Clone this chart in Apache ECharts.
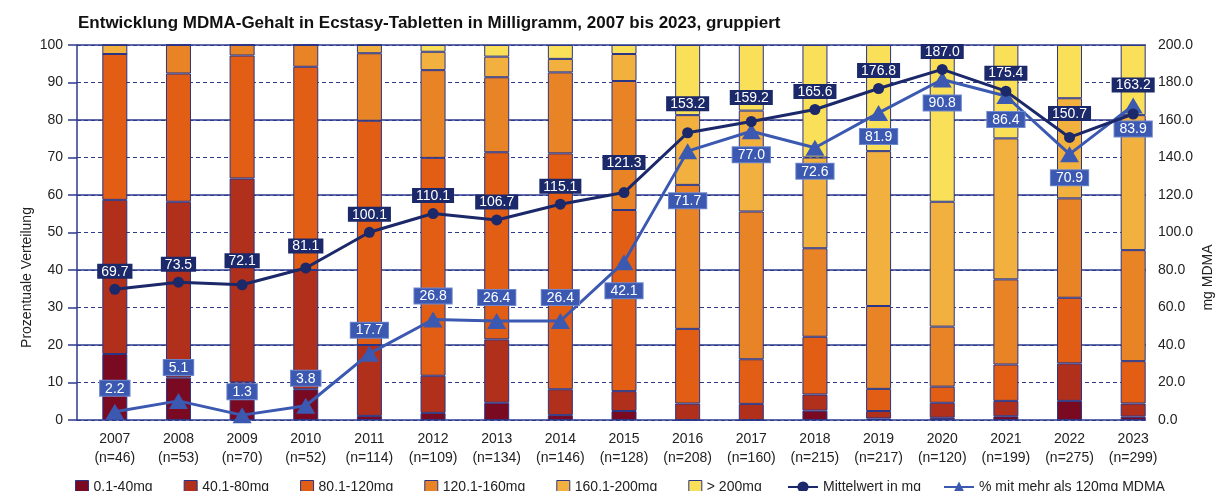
<!DOCTYPE html>
<html>
<head>
<meta charset="utf-8">
<script src="https://cdn.jsdelivr.net/npm/echarts@6/dist/echarts.min.js"></script>
<style>
  html, body { margin: 0; padding: 0; background: #fff; }
  #chart { width: 1220px; height: 491px; }
</style>
</head>
<body>
<div id="chart"></div>
<script>
// categories
const years = ['2007','2008','2009','2010','2011','2012','2013','2014','2015','2016','2017','2018','2019','2020','2021','2022','2023'];
const sampleN = [46, 53, 70, 52, 114, 109, 134, 146, 128, 208, 160, 215, 217, 120, 199, 275, 299];

// percentage distribution per dose group
const g0_40    = [17.6, 11.3, 10.0,  8.2,  1.1,  1.9,  4.6,  1.3,  2.4,  0.0,  0.0,  2.5,  0.4,  0.6,  1.0,  5.1,  0.9];
const g40_80   = [41.1, 46.9, 54.4, 31.8, 18.9,  9.9, 16.9,  6.9,  5.3,  4.4,  4.3,  4.3,  2.0,  4.0,  4.1, 10.0,  3.5];
const g80_120  = [38.9, 34.2, 32.8, 54.2, 59.8, 58.1, 49.9, 62.9, 48.3, 19.9, 11.9, 15.4,  5.9,  4.3,  9.7, 17.5, 11.3];
const g120_160 = [ 0.0,  7.6,  2.8,  5.8, 18.0, 23.4, 20.0, 21.6, 34.4, 38.4, 39.4, 23.6, 22.1, 16.0, 22.7, 26.5, 29.6];
const g160_200 = [ 2.4,  0.0,  0.0,  0.0,  2.2,  4.9,  5.5,  3.6,  7.2, 18.6, 26.9, 24.2, 41.3, 33.3, 37.6, 26.7, 36.0];
const g200plus = [ 0.0,  0.0,  0.0,  0.0,  0.0,  1.8,  3.1,  3.7,  2.4, 18.7, 17.5, 30.0, 28.3, 41.8, 24.9, 14.2, 18.7];

// lines
const meanMg     = [69.7, 73.5, 72.1, 81.1, 100.1, 110.1, 106.7, 115.1, 121.3, 153.2, 159.2, 165.6, 176.8, 187.0, 175.4, 150.7, 163.2];
const pctOver120 = [2.2, 5.1, 1.3, 3.8, 17.7, 26.8, 26.4, 26.4, 42.1, 71.7, 77.0, 72.6, 81.9, 90.8, 86.4, 70.9, 83.9];

const groupNames = ['0.1-40mg', '40.1-80mg', '80.1-120mg', '120.1-160mg', '160.1-200mg', '> 200mg'];
const groups = [g0_40, g40_80, g80_120, g120_160, g160_200, g200plus];
const groupColors = ['#7A0A22', '#B0301C', '#E25E14', '#E88326', '#F2B13F', '#FADF58'];

const NAVY = '#1B2869';
const BLUE = '#3C59B1';
const GRID = '#2E3A8C';
const FONT = 'Liberation Sans, Arial, sans-serif';

// small manual label nudges (px), like the hand-placed labels of the original
const meanNudge = {2: -6, 3: -4, 8: -12, 9: -11, 10: -6, 15: -6, 16: -11};
const pctNudge = {1: -10, 3: -4, 8: 5, 9: 26};

// grid 0 draws the frame, ticks and gridlines; grid 1 holds the data
// (the bars sit off-centre in the original frame, so the category band is shifted)
const axisGrid = { left: 77, right: 74, top: 45, bottom: 71 };
const dataGrid = { left: 83, right: 55, top: 45, bottom: 71 };

const barSeries = groups.map((g, k) => ({
  name: groupNames[k],
  type: 'bar',
  stack: 'pct',
  barWidth: 25,
  xAxisIndex: 1,
  yAxisIndex: 3,
  itemStyle: { color: groupColors[k], borderColor: '#2B3585', borderWidth: 1 },
  data: g
}));

const meanSeries = {
  name: 'Mittelwert in mg',
  type: 'line',
  xAxisIndex: 1,
  yAxisIndex: 4,
  z: 5,
  symbol: 'circle',
  symbolSize: 11,
  lineStyle: { color: NAVY, width: 3 },
  itemStyle: { color: NAVY },
  label: {
    show: true, position: 'top', distance: 5,
    formatter: p => p.value.toFixed(1),
    color: '#fff', backgroundColor: NAVY, fontFamily: FONT, fontSize: 14,
    padding: [1, 4, 0, 4], lineHeight: 14
  },
  data: meanMg.map((v, i) => ({
    value: v,
    label: meanNudge[i] ? { offset: [0, meanNudge[i]] } : undefined
  }))
};

const pctSeries = {
  name: '% mit mehr als 120mg MDMA',
  type: 'line',
  xAxisIndex: 1,
  yAxisIndex: 3,
  z: 4,
  symbol: 'triangle',
  symbolSize: [19, 16],
  lineStyle: { color: BLUE, width: 3 },
  itemStyle: { color: BLUE },
  label: {
    show: true, distance: 8,
    formatter: p => p.value.toFixed(1),
    color: '#fff', backgroundColor: BLUE, borderColor: '#6F87CC', borderWidth: 1,
    fontFamily: FONT, fontSize: 14, padding: [1, 5, 0, 5], lineHeight: 14
  },
  data: pctOver120.map((v, i) => ({
    value: v,
    label: { position: i < 8 ? 'top' : 'bottom', offset: [0, pctNudge[i] || 0] }
  }))
};

const chart = echarts.init(document.getElementById('chart'), null, { renderer: 'canvas' });

chart.setOption({
  backgroundColor: '#fff',
  animation: false,
  textStyle: { fontFamily: FONT },
  title: {
    text: 'Entwicklung MDMA-Gehalt in Ecstasy-Tabletten in Milligramm, 2007 bis 2023, gruppiert',
    left: 73, top: 10,
    textStyle: { fontFamily: FONT, fontSize: 17, fontWeight: 'bold', color: '#111' }
  },
  legend: [
    {
      data: groupNames,
      left: 70, top: 475,
      itemWidth: 13, itemHeight: 13, itemGap: 31,
      icon: 'rect',
      itemStyle: { borderColor: '#2B3585', borderWidth: 1 },
      textStyle: { fontFamily: FONT, fontSize: 14, color: '#222' }
    },
    {
      data: ['Mittelwert in mg', '% mit mehr als 120mg MDMA'],
      left: 782, top: 475,
      itemWidth: 30, itemHeight: 14, itemGap: 22,
      textStyle: { fontFamily: FONT, fontSize: 14, color: '#222' }
    }
  ],
  grid: [
    Object.assign({ containLabel: false, outerBoundsMode: 'none' }, axisGrid),
    Object.assign({ containLabel: false, outerBoundsMode: 'none' }, dataGrid)
  ],
  xAxis: [
    {
      gridIndex: 0, type: 'value', min: 0, max: 1, show: false
    },
    {
      gridIndex: 1, type: 'category', data: years, boundaryGap: true,
      axisLine: { show: false }, axisTick: { show: false }, splitLine: { show: false },
      axisLabel: {
        margin: 10, interval: 0,
        fontFamily: FONT, fontSize: 14, color: '#222', lineHeight: 19,
        formatter: (v, i) => v + '\n(n=' + sampleN[i] + ')'
      }
    }
  ],
  yAxis: [
    {
      gridIndex: 0, type: 'value', min: 0, max: 100, interval: 10,
      name: 'Prozentuale Verteilung',
      nameLocation: 'middle', nameRotate: 90, nameGap: 43, nameMoveOverlap: false,
      nameTextStyle: { fontFamily: FONT, fontSize: 14, color: '#222', padding: [0, 90, 0, 0] },
      axisLine: { show: true, onZero: false, lineStyle: { color: GRID, width: 1.5 } },
      axisTick: { show: true, inside: false, length: 9, lineStyle: { color: GRID, width: 1.5 } },
      axisLabel: { margin: 14, fontFamily: FONT, fontSize: 14, color: '#222' },
      splitLine: { show: true, lineStyle: { color: GRID, width: 1.2, type: [4, 3] } }
    },
    {
      gridIndex: 0, type: 'value', min: 0, max: 200, interval: 20,
      position: 'right',
      name: 'mg MDMA',
      nameLocation: 'middle', nameRotate: 90, nameGap: 55, nameMoveOverlap: false,
      nameTextStyle: { fontFamily: FONT, fontSize: 14, color: '#222', padding: [0, 90, 0, 0] },
      axisLine: { show: false, onZero: false },
      axisTick: { show: false },
      axisLabel: { margin: 12, fontFamily: FONT, fontSize: 14, color: '#222', formatter: v => v.toFixed(1) },
      splitLine: { show: false }
    },
    {
      gridIndex: 0, type: 'value', min: 0, max: 100, interval: 20,
      axisLine: { show: false, onZero: false }, axisTick: { show: false }, axisLabel: { show: false },
      splitLine: { show: true, lineStyle: { color: GRID, width: 1.5, type: 'solid' } }
    },
    {
      gridIndex: 1, type: 'value', min: 0, max: 100, interval: 10, show: false
    },
    {
      gridIndex: 1, type: 'value', min: 0, max: 200, interval: 20, show: false
    }
  ],
  series: [...barSeries, pctSeries, meanSeries]
});
</script>
</body>
</html>
